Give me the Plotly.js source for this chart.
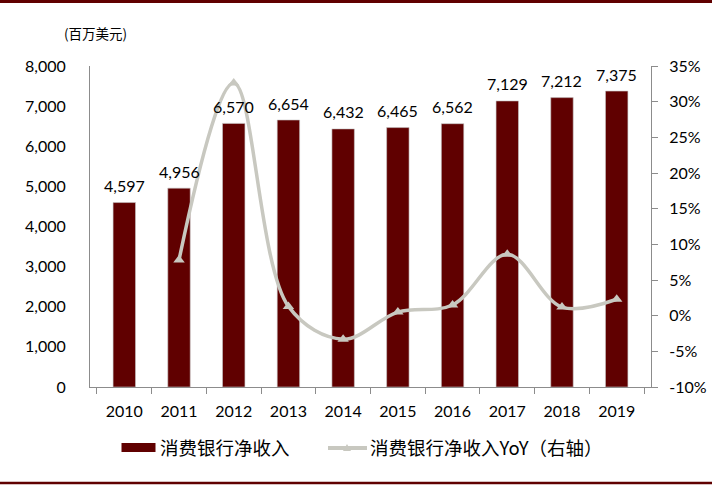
<!DOCTYPE html>
<html><head><meta charset="utf-8">
<script src="https://cdn.plot.ly/plotly-3.0.1.min.js"></script>
<style>html,body{margin:0;padding:0;background:#fff}#chart{width:712px;height:487px}</style>
</head><body><div id="chart"></div>
<script>
window.onerror = function(m){ document.body.insertAdjacentHTML('beforeend','<pre>'+m+'</pre>'); };
const years = ['2010','2011','2012','2013','2014','2015','2016','2017','2018','2019'];
const netRevenue = [4597, 4956, 6570, 6654, 6432, 6465, 6562, 7129, 7212, 7375];
const revenueLabels = ['4,597','4,956','6,570','6,654','6,432','6,465','6,562','7,129','7,212','7,375'];
const yoy = [null, 0.078, 0.326, 0.013, -0.033, 0.005, 0.015, 0.086, 0.012, 0.023];
const leftTicks = [0,1000,2000,3000,4000,5000,6000,7000,8000];
const leftTickText = ['0','1,000','2,000','3,000','4,000','5,000','6,000','7,000','8,000'];
const rightTicks = [-0.10,-0.05,0,0.05,0.10,0.15,0.20,0.25,0.30,0.35];
const rightTickText = ['-10%','-5%','0%','5%','10%','15%','20%','25%','30%','35%'];
const seriesNames = ['消费银行净收入','消费银行净收入YoY（右轴）'];
const unitLabel = '(百万美元)';

const BAR = '#600000', LINE = '#C8C8C0', AXIS = '#8C8C8C';
const L = 90, R = 651, T = 66, B = 387;
const px = x => (x - L) / (R - L);
const py = y => (B - y) / (B - T);
const numFont = {family: 'Lato, "Open Sans", sans-serif', size: 16, color: '#000'};
const cjkFont = {family: '"Noto Sans CJK SC", sans-serif', size: 18.5, color: '#000'};

const traces = [
  {type: 'bar', x: years, y: netRevenue, name: seriesNames[0], marker: {color: BAR, line: {color: '#C8C8C8', width: 0.6}}, hoverinfo: 'skip'},
  {type: 'scatter', mode: 'lines+markers', x: years, y: yoy, yaxis: 'y2', name: seriesNames[1],
   line: {color: LINE, width: 3.5, shape: 'spline', smoothing: 1}, marker: {symbol: 'triangle-up', size: 10, color: LINE},
   cliponaxis: false, hoverinfo: 'skip'}
];

const annotations = years.map((yr, i) => ({x: i, y: netRevenue[i], xref: 'x', yref: 'y', text: revenueLabels[i], showarrow: false, yanchor: 'middle', yshift: 17, font: numFont}));
annotations.push({xref: 'paper', yref: 'paper', x: px(62), y: py(33), xanchor: 'left', yanchor: 'middle', text: unitLabel, showarrow: false, font: {family: '"Noto Sans CJK SC", sans-serif', size: 13.5, color: '#000'}});
annotations.push({xref: 'paper', yref: 'paper', x: px(158), y: py(447), xanchor: 'left', yanchor: 'middle', text: seriesNames[0], showarrow: false, font: cjkFont});
annotations.push({xref: 'paper', yref: 'paper', x: px(368), y: py(447), xanchor: 'left', yanchor: 'middle', text: seriesNames[1], showarrow: false, font: cjkFont});

const shapes = [
  {type: 'line', xref: 'paper', yref: 'paper', x0: px(0), x1: px(712), y0: py(1.5), y1: py(1.5), line: {color: BAR, width: 3}},
  {type: 'line', xref: 'paper', yref: 'paper', x0: px(0), x1: px(712), y0: py(483), y1: py(483), line: {color: BAR, width: 2.5}},
  {type: 'rect', xref: 'paper', yref: 'paper', x0: px(121.5), x1: px(155.5), y0: py(452), y1: py(443), fillcolor: BAR, line: {width: 0}},
  {type: 'line', xref: 'paper', yref: 'paper', x0: px(328), x1: px(367), y0: py(448), y1: py(448), line: {color: LINE, width: 4}},
  {type: 'path', xref: 'paper', yref: 'paper', path: 'M ' + px(343) + ' ' + py(451) + ' L ' + px(351) + ' ' + py(451) + ' L ' + px(347) + ' ' + py(444) + ' Z', fillcolor: LINE, line: {width: 0}}
];

const layout = {
  width: 712, height: 487,
  margin: {l: L, r: 712 - R, t: T, b: 487 - B, pad: 0},
  paper_bgcolor: '#fff', plot_bgcolor: '#fff',
  showlegend: false,
  bargap: 0.59,
  xaxis: {type: 'category', showline: true, linecolor: AXIS, linewidth: 1, ticks: 'outside', tickson: 'boundaries', ticklen: 6, tickcolor: AXIS,
          tickfont: numFont, tickangle: 0, ticklabelstandoff: 10, showgrid: false, zeroline: false, fixedrange: true},
  yaxis: {range: [0, 8000], tickvals: leftTicks, ticktext: leftTickText, showline: true, linecolor: AXIS, linewidth: 1, ticks: '',
          tickfont: numFont, showgrid: false, zeroline: false, ticklabelstandoff: 20, fixedrange: true},
  yaxis2: {overlaying: 'y', side: 'right', range: [-0.10, 0.35], tickvals: rightTicks, ticktext: rightTickText, showline: true, linecolor: AXIS, linewidth: 1,
           ticks: 'outside', ticklen: 6, tickcolor: AXIS, tickfont: numFont, showgrid: false, zeroline: false, ticklabelstandoff: 8, fixedrange: true},
  annotations: annotations,
  shapes: shapes
};

try { Plotly.newPlot('chart', traces, layout, {displayModeBar: false, staticPlot: true}); }
catch (e) { document.body.insertAdjacentHTML('beforeend','<pre>'+e+'</pre>'); }
</script>
</body></html>
